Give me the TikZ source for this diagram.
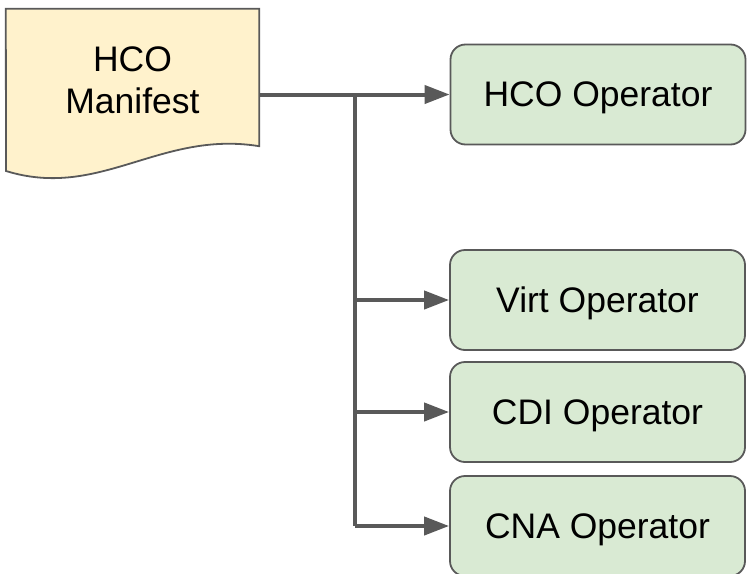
\documentclass[tikz,border=0pt]{standalone}
\usepackage{fontspec}
\setmainfont{Liberation Sans}
\usetikzlibrary{arrows.meta}
\definecolor{docfill}{HTML}{FFF2CC}
\definecolor{opfill}{HTML}{D9EAD3}
\definecolor{edge}{HTML}{595959}
\begin{document}
\begin{tikzpicture}[x=1pt,y=-1pt,
  opbox/.style={draw=edge, line width=1.8pt, fill=opfill, rounded corners=15pt,
    minimum width=295pt, minimum height=100pt, inner sep=0pt, text depth=0pt,
    font=\fontsize{35.5}{42}\selectfont},
  docbox/.style={inner sep=0pt, minimum width=253pt, minimum height=137pt,
    align=center, font=\fontsize{35.5}{42}\selectfont},
  conn/.style={draw=edge, line width=4pt},
  arr/.style={conn, -{Triangle[length=25pt,width=18pt]}}]
\useasboundingbox (0,0) rectangle (747,573);
% document shape
\node[docbox] (man) at (132.5,77.5) {};
\fill[docfill, draw=edge, line width=1.8pt]
  (man.north west) -- (man.north east) -- (man.south east)
  .. controls (160,130) and (100,200) .. (6,171) -- cycle;
\node[docbox] (mantext) at (132.5,80) {HCO\\Manifest};
% operators
\node[opbox] (hco)  at (598,94.5) {HCO Operator};
\node[opbox] (virt) at (597.5,300) {Virt Operator};
\node[opbox] (cdi)  at (597.5,412) {CDI Operator};
\node[opbox] (cna)  at (597.5,526) {CNA Operator};
\coordinate (j) at (355,94.5);
% connectors
\draw[conn] (j) -- (j |- cna.west);
\draw[arr] (man.east |- hco.west) -- (hco.west);
\draw[arr] (j |- virt.west) -- (virt.west);
\draw[arr] (j |- cdi.west) -- (cdi.west);
\draw[arr] (j |- cna.west) -- (cna.west);
\end{tikzpicture}
\end{document}
